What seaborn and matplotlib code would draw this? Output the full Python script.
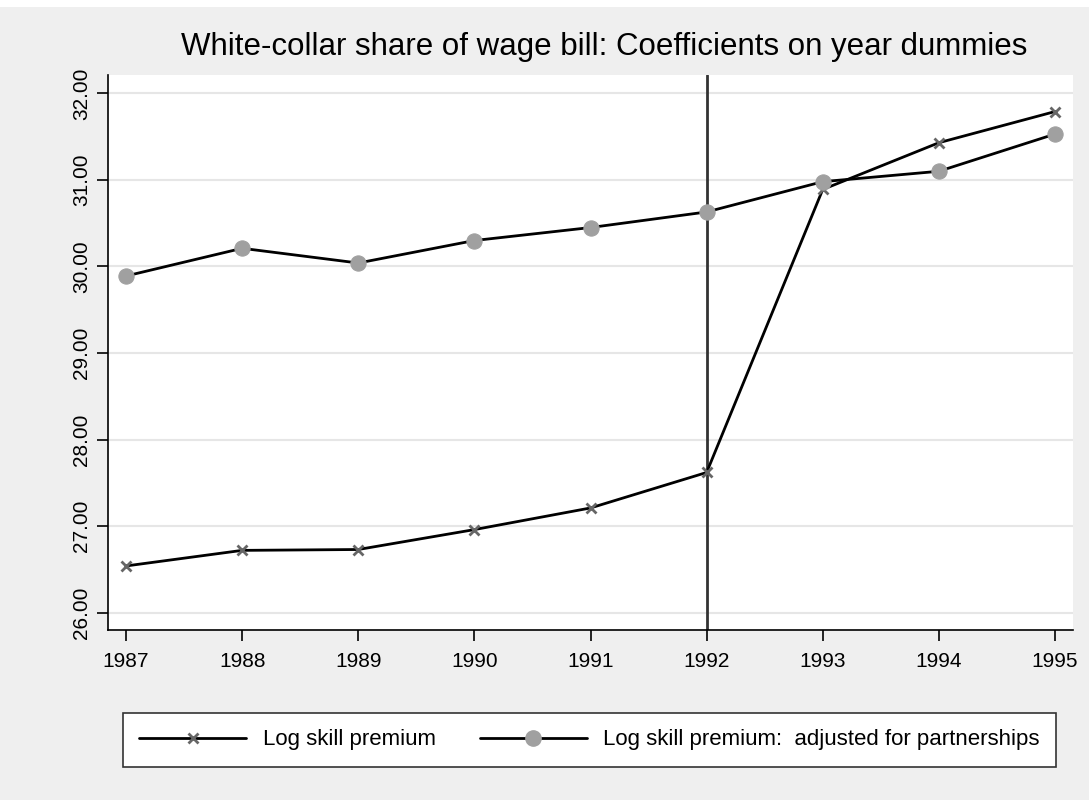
import pandas as pd
import seaborn as sns
import matplotlib.pyplot as plt
from matplotlib.lines import Line2D
from matplotlib.patches import Rectangle

years = [1987, 1988, 1989, 1990, 1991, 1992, 1993, 1994, 1995]
log_premium = [26.54, 26.72, 26.73, 26.96, 27.21, 27.62, 30.89, 31.43, 31.79]
log_premium_adj = [29.89, 30.21, 30.04, 30.30, 30.45, 30.63, 30.98, 31.10, 31.53]
y_ticks = [26, 27, 28, 29, 30, 31, 32]
break_year = 1992

label1 = "Log skill premium"
label2 = "Log skill premium:  adjusted for partnerships"

df = pd.DataFrame({"year": years, label1: log_premium, label2: log_premium_adj})

sns.set_style("white")
plt.rcParams['font.family'] = ['Liberation Sans', 'DejaVu Sans']
plt.rcParams['text.color'] = 'black'

fig = plt.figure(figsize=(10.89, 8), dpi=100, facecolor='#efefef')
# thin white strip along the top edge
fig.patches.append(Rectangle((0, 1 - 7 / 800), 1, 7 / 800, transform=fig.transFigure,
                             facecolor='white', edgecolor='none'))
ax = fig.add_axes([0.0992, 0.2125, 0.8861, 0.6935])
ax.set_facecolor('white')

for y in y_ticks:
    ax.axhline(y, color='#e6e6e6', lw=1.5, zorder=0)

ax.axvline(break_year, color='#333333', lw=2, zorder=1)

sns.lineplot(data=df, x="year", y=label1, ax=ax, color='black', lw=2,
             marker='x', markersize=7, markeredgewidth=2, markeredgecolor='#666666', zorder=3)
sns.lineplot(data=df, x="year", y=label2, ax=ax, color='black', lw=2,
             marker='o', markersize=11, markerfacecolor='#a0a0a0', markeredgecolor='#a0a0a0', zorder=3)

ax.set_xlim(1986.845, 1995.155)
ax.set_ylim(25.80, 32.21)
ax.set_xticks(years)
ax.set_yticks(y_ticks)
ax.set_yticklabels([f"{v:.2f}" for v in y_ticks], rotation=90, va='center')
ax.tick_params(axis='both', direction='out', length=8, width=1.2, labelsize=15,
               colors='black', bottom=True, left=True)
ax.tick_params(axis='x', pad=8)
ax.tick_params(axis='y', pad=4)
ax.set_xlabel("")
ax.set_ylabel("")

for side in ['top', 'right']:
    ax.spines[side].set_visible(False)
for side in ['left', 'bottom']:
    ax.spines[side].set_color('black')
    ax.spines[side].set_linewidth(1.2)

fig.text(0.5547, 1 - 55 / 800, "White-collar share of wage bill: Coefficients on year dummies",
         ha='center', va='baseline', fontsize=22.5, color='black')

handles = [
    Line2D([], [], color='black', lw=2, marker='x', markersize=7, markeredgewidth=2,
           markeredgecolor='#666666'),
    Line2D([], [], color='black', lw=2, marker='o', markersize=11,
           markerfacecolor='#a0a0a0', markeredgecolor='#a0a0a0'),
]
leg = fig.legend(handles, [label1, label2], loc='center', bbox_to_anchor=(0.5413, 0.075),
                 ncol=2, fontsize=16, frameon=True, fancybox=False, handlelength=4.8,
                 handletextpad=0.75, columnspacing=2.0, borderpad=0.75,
                 edgecolor='#333333', facecolor='white', framealpha=1)
leg.get_frame().set_linewidth(1.2)

fig.savefig('out.png', dpi=100, facecolor=fig.get_facecolor())
